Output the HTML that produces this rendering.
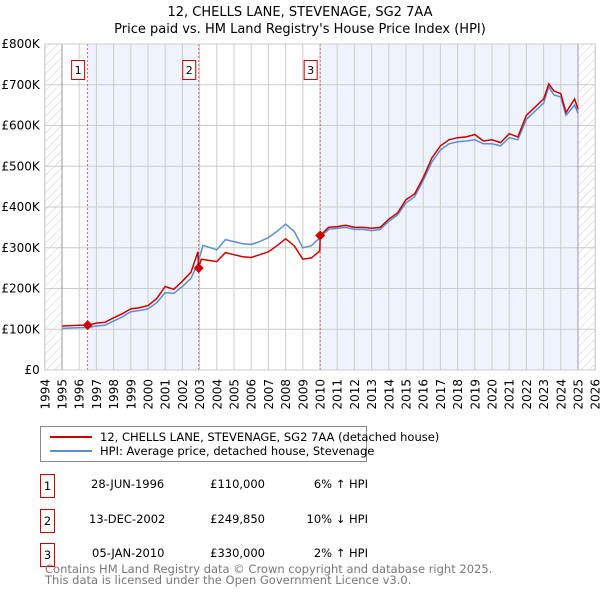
<!DOCTYPE html>
<html><head><meta charset="utf-8"><style>
body{margin:0;background:#fff;font-family:"Liberation Sans","DejaVu Sans",sans-serif;}
svg text{font-family:"DejaVu Sans","Liberation Sans",sans-serif;}
</style></head><body>
<svg id="c" width="600" height="590" viewBox="0 0 600 590" xmlns="http://www.w3.org/2000/svg">
<defs><pattern id="h" width="6" height="6" patternUnits="userSpaceOnUse" patternTransform="rotate(45)"><line x1="0" y1="0" x2="0" y2="6" stroke="#ccc" stroke-width="1"/></pattern></defs>
<text x="300" y="16" text-anchor="middle" font-size="13">12, CHELLS LANE, STEVENAGE, SG2 7AA</text>
<text x="300" y="33" text-anchor="middle" font-size="13">Price paid vs. HM Land Registry's House Price Index (HPI)</text>
<g id="plot"></g>
<g>
<rect x="40.5" y="426.5" width="326" height="35" fill="#fff" stroke="#888"/>
<line x1="50" y1="437" x2="92" y2="437" stroke="#cc0000" stroke-width="2"/>
<text x="100" y="441" font-size="11.5">12, CHELLS LANE, STEVENAGE, SG2 7AA (detached house)</text>
<line x1="50" y1="451" x2="92" y2="451" stroke="#5b8fd0" stroke-width="2"/>
<text x="100" y="455" font-size="11.5">HPI: Average price, detached house, Stevenage</text>
</g>
<g font-size="11.5">
<rect x="40.5" y="474.5" width="14" height="23" fill="none" stroke="#cc0000"/><text x="47.5" y="490" text-anchor="middle">1</text>
<text x="91" y="488">28-JUN-1996</text><text x="265" y="488" text-anchor="end">£110,000</text><text x="368" y="488" text-anchor="end">6% ↑ HPI</text>
<rect x="40.5" y="509.5" width="14" height="23" fill="none" stroke="#cc0000"/><text x="47.5" y="525" text-anchor="middle">2</text>
<text x="89" y="523">13-DEC-2002</text><text x="265" y="523" text-anchor="end">£249,850</text><text x="368" y="523" text-anchor="end">10% ↓ HPI</text>
<rect x="40.5" y="543.5" width="14" height="23" fill="none" stroke="#cc0000"/><text x="47.5" y="559" text-anchor="middle">3</text>
<text x="92" y="557">05-JAN-2010</text><text x="265" y="557" text-anchor="end">£330,000</text><text x="368" y="557" text-anchor="end">2% ↑ HPI</text>
</g>
<text x="45" y="573" font-size="11.5" fill="#777">Contains HM Land Registry data © Crown copyright and database right 2025.</text>
<text x="45" y="584" font-size="11.5" fill="#777">This data is licensed under the Open Government Licence v3.0.</text>
</svg>
<script>
const hpiYears=[1995,1995.5,1996,1996.5,1997,1997.5,1998,1998.5,1999,1999.5,2000,2000.5,2001,2001.5,2002,2002.5,2002.9,2003.2,2004,2004.5,2005,2005.5,2006,2006.5,2007,2007.5,2008,2008.5,2009,2009.5,2010,2010.5,2011,2011.5,2012,2012.5,2013,2013.5,2014,2014.5,2015,2015.5,2016,2016.5,2017,2017.5,2018,2018.5,2019,2019.5,2020,2020.5,2021,2021.5,2022,2022.5,2023,2023.3,2023.6,2024,2024.3,2024.8,2025];
const hpiValues=[102,103,104,104,108,110,120,130,143,146,150,165,190,188,205,225,262,306,295,320,315,310,308,315,325,340,358,340,300,305,325,345,348,350,345,345,342,345,365,380,410,425,465,510,540,555,560,562,565,555,555,550,570,565,615,635,655,695,675,670,625,650,630];
const propYears=[1995,1995.5,1996,1996.49,1997,1997.5,1998,1998.5,1999,1999.5,2000,2000.5,2001,2001.5,2002,2002.5,2002.9,2002.95,2003.1,2004,2004.5,2005,2005.5,2006,2006.5,2007,2007.5,2008,2008.5,2009,2009.5,2009.99,2010.01,2010.5,2011,2011.5,2012,2012.5,2013,2013.5,2014,2014.5,2015,2015.5,2016,2016.5,2017,2017.5,2018,2018.5,2019,2019.5,2020,2020.5,2021,2021.5,2022,2022.5,2023,2023.3,2023.6,2024,2024.3,2024.8,2025];
const propValues=[108,109,110,110,115,117,128,138,150,153,158,175,205,198,218,240,290,252,272,266,288,283,278,276,283,290,305,322,305,272,275,292,330,350,352,355,350,350,348,350,370,385,418,432,472,520,550,565,570,572,578,562,565,558,580,572,625,645,665,702,685,678,632,665,640];
const saleYears=[1996.49,2002.95,2010.01];
const saleValues=[110000,249850,330000];
const saleLabels=["1","2","3"];
const yTicks=[0,100,200,300,400,500,600,700,800];
const yTickLabels=["£0","£100K","£200K","£300K","£400K","£500K","£600K","£700K","£800K"];
const xTicks=[1994,1995,1996,1997,1998,1999,2000,2001,2002,2003,2004,2005,2006,2007,2008,2009,2010,2011,2012,2013,2014,2015,2016,2017,2018,2019,2020,2021,2022,2023,2024,2025,2026];

const X=y=>62+(y-1995)*17.2, Y=v=>370-v*326/800;
const NS="http://www.w3.org/2000/svg";
const g=document.getElementById('plot');
function mk(t,a,p){const e=document.createElementNS(NS,t);for(const k in a)e.setAttribute(k,a[k]);(p||g).appendChild(e);return e;}
const L=X(1994),R=X(2026),T=Y(800),B=Y(0);
let e;
e=mk('rect',{x:X(saleYears[0]),y:T,width:X(saleYears[1])-X(saleYears[0]),height:B-T,fill:'#eef3fc'});


e=mk('rect',{x:X(saleYears[2]),y:T,width:X(2025)-X(saleYears[2]),height:B-T,fill:'#eef3fc'});


e=mk('rect',{x:L,y:T,width:X(1995)-L,height:B-T,fill:'url(#h)'});


e=mk('rect',{x:X(2025),y:T,width:R-X(2025),height:B-T,fill:'url(#h)'});


yTicks.forEach((v,i)=>{
 e=mk('line',{x1:L,x2:R,y1:Y(v),y2:Y(v),stroke:'#ccc'});
 
 
 e=mk('text',{x:L-5,y:Y(v)+4,'text-anchor':'end','font-size':'12'});e.textContent=yTickLabels[i];
 
 
});
xTicks.forEach(y=>{
 e=mk('line',{x1:X(y),x2:X(y),y1:T,y2:B,stroke:(y==1995||y==2025)?'#999':'#ccc'});
 
 
 const tx=X(y)+4.5, ty=379;
 e=mk('text',{x:tx,y:ty,'text-anchor':'end','font-size':'12',transform:`rotate(-90 ${tx} ${ty})`});e.textContent=y;
 
 
});
saleYears.forEach((s,i)=>{
 e=mk('line',{x1:X(s),x2:X(s),y1:T,y2:B,stroke:'#e04040','stroke-dasharray':'2,2','stroke-width':'0.8'});
 
 
 e=mk('rect',{x:X(s)-16,y:60.5,width:13,height:19,fill:'#fff',stroke:'#cc0000'});
 
 
 e=mk('text',{x:X(s)-9.5,y:74,'text-anchor':'middle','font-size':'11'});e.textContent=saleLabels[i];
 
 
});
const pts=(xs,vs)=>xs.map((y,i)=>X(y).toFixed(1)+','+Y(vs[i]).toFixed(1)).join(' ');
e=mk('polyline',{points:pts(hpiYears,hpiValues),fill:'none',stroke:'#5b8fd0','stroke-width':'1.5'});


e=mk('polyline',{points:pts(propYears,propValues),fill:'none',stroke:'#cc0000','stroke-width':'1.5'});


saleYears.forEach((s,i)=>{
 const cx=X(s),cy=Y(saleValues[i]/1000);
 e=mk('polygon',{points:`${cx},${cy-5} ${cx+5},${cy} ${cx},${cy+5} ${cx-5},${cy}`,fill:'#cc0000'});
 
 
});
e=mk('rect',{x:L,y:T,width:R-L,height:B-T,fill:'none',stroke:'#ccc'});


</script>
</body></html>
